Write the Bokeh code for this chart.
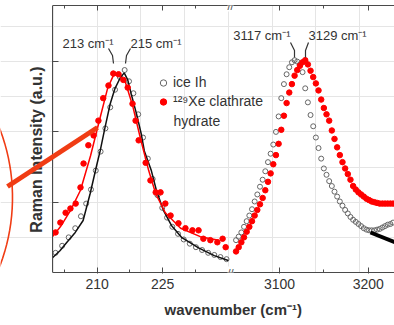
import numpy as np
from bokeh.plotting import figure
from bokeh.models import (Range1d, LinearAxis, FixedTicker, Label, Legend, LegendItem,
                          PolyAnnotation, Arrow, Title)
from bokeh.embed import file_html
from bokeh.resources import INLINE

# ---------------- data ----------------
# low-frequency band (cm^-1), intensity in a.u.
low_ice_x = [200.5, 202.0, 203.5, 205.0, 206.3, 207.5, 208.6, 209.7, 210.8, 211.9, 213.0,
             214.1, 215.2, 216.3, 217.3, 218.3, 219.4, 220.5, 221.6, 222.7, 223.8, 224.9,
             226.0, 227.2, 228.5, 229.8, 231.2, 232.6, 234.0, 235.4, 236.8, 238.2, 239.6]
low_ice_y = [0.28, 0.38, 0.50, 0.63, 0.80, 0.98, 1.18, 1.45, 1.72, 2.05, 2.35,
             2.60, 2.78, 2.88, 2.72, 2.55, 2.25, 1.92, 1.62, 1.33, 1.10, 0.92,
             0.78, 0.65, 0.55, 0.47, 0.41, 0.36, 0.32, 0.28, 0.25, 0.22, 0.19]
low_ice_fit_x = [199.8, 201.5, 203.1, 205.0, 206.8, 208.4, 210.0, 210.7, 211.8, 213.0, 214.1,
                 215.3, 216.2, 217.0, 217.8, 219.0, 220.1, 220.8, 222.4, 223.6, 225.2, 227.0,
                 229.3, 233.2, 236.8, 240.0]
low_ice_fit_y = [0.21, 0.31, 0.43, 0.57, 0.74, 1.12, 1.55, 1.73, 2.06, 2.40, 2.62,
                 2.77, 2.84, 2.74, 2.54, 2.26, 1.97, 1.73, 1.45, 1.16, 0.88, 0.67,
                 0.50, 0.35, 0.24, 0.17]
low_xe_x = [200.5, 201.6, 202.8, 203.9, 205.1, 206.2, 206.9, 208.0, 209.2, 210.3, 211.4,
            212.6, 213.7, 214.9, 216.0, 217.0, 218.1, 218.8, 219.5, 221.1, 222.2, 223.4,
            224.5, 225.6, 226.8, 228.6, 230.2, 231.8, 233.2, 234.3, 235.9, 237.5, 238.7, 239.4]
low_xe_y = [0.57, 0.71, 0.85, 0.91, 0.98, 1.21, 1.55, 1.81, 1.95, 2.16, 2.48,
            2.66, 2.83, 2.82, 2.74, 2.63, 2.40, 2.16, 1.88, 1.56, 1.31, 1.14,
            1.14, 0.98, 0.81, 0.70, 0.63, 0.60, 0.60, 0.48, 0.46, 0.43, 0.48, 0.36]
low_xe_fit_x = [199.8, 201.6, 203.9, 206.2, 208.5, 210.8, 212.4, 213.7, 214.9, 216.5, 218.1,
                219.9, 221.8, 223.4, 225.6, 229.1, 233.6, 237.8]
low_xe_fit_y = [0.51, 0.65, 0.88, 1.17, 1.66, 2.23, 2.62, 2.80, 2.82, 2.70, 2.38,
                1.91, 1.45, 1.12, 0.85, 0.63, 0.51, 0.46]

# high-frequency (O-H stretch) band
high_ice_x = [3051, 3054, 3057, 3060, 3063, 3066, 3069, 3072, 3075, 3078, 3081, 3084, 3087,
              3090, 3093, 3096, 3099, 3102, 3105, 3108, 3111, 3114, 3117, 3120, 3123, 3126,
              3129, 3132, 3135, 3138, 3141, 3144, 3147, 3150, 3153, 3156, 3159, 3162, 3165,
              3168, 3171, 3174, 3177, 3180, 3183, 3186, 3189, 3192, 3195, 3198, 3201, 3204,
              3207, 3210, 3213, 3216, 3219, 3222, 3225, 3228]
high_ice_y = [0.46, 0.51, 0.57, 0.65, 0.73, 0.81, 0.90, 1.01, 1.11, 1.22, 1.32, 1.44, 1.57,
              1.69, 1.82, 2.00, 2.22, 2.48, 2.68, 2.82, 2.92, 2.99, 3.02, 3.00, 2.96, 2.85,
              2.62, 2.42, 2.24, 2.08, 1.92, 1.77, 1.62, 1.48, 1.39, 1.30, 1.23, 1.15, 1.08,
              1.01, 0.95, 0.89, 0.84, 0.79, 0.75, 0.72, 0.69, 0.66, 0.63, 0.61, 0.60, 0.60,
              0.60, 0.61, 0.62, 0.64, 0.66, 0.68, 0.69, 0.71]
high_xe_x = high_ice_x
high_xe_y = [0.30, 0.36, 0.43, 0.50, 0.58, 0.65, 0.73, 0.81, 0.89, 0.97, 1.06, 1.17, 1.29,
             1.41, 1.54, 1.67, 1.83, 2.03, 2.23, 2.41, 2.56, 2.68, 2.80, 2.88, 2.94, 2.99,
             3.02, 2.96, 2.87, 2.78, 2.69, 2.59, 2.46, 2.34, 2.25, 2.16, 2.02, 1.90, 1.78,
             1.67, 1.57, 1.48, 1.40, 1.32, 1.23, 1.18, 1.14, 1.11, 1.08, 1.05, 1.03, 1.01,
             1.00, 0.99, 0.98, 0.98, 0.98, 0.98, 0.98, 0.98]

low_major_ticks = [210, 225]
low_minor_ticks = [202.5, 217.5, 232.5]
high_major_ticks = [3100, 3200]
high_minor_ticks = [3150]
y_ticks = [1, 2, 3]

series_names = ["ice Ih", "\u00b9\u00b2\u2079Xe clathrate", "hydrate"]
peak_labels_low = ["213 cm\u207b\u00b9", "215 cm\u207b\u00b9"]
peak_labels_high = ["3117 cm\u207b\u00b9", "3129 cm\u207b\u00b9"]
x_title = "wavenumber (cm\u207b\u00b9)"
y_title = "Raman Intensity (a.u.)"

# ---------------- geometry ----------------
PXL, PXY, PXR = 4.373, 70.3, 0.887
AXL, FB, W = 52, 272, 394          # y-axis px, x-axis px, canvas width
LOW0 = 199.8                       # low-band value at the y axis
L0 = LOW0 - AXL / PXL              # low-band value at canvas x = 0
L1 = L0 + W / PXL
R1 = 3100 + (W - 279) / PXR
R0 = R1 - W / PXR
Y1 = (FB - 5) / PXY


def hi2lo(w):
    return L0 + (w - R0) * (L1 - L0) / (R1 - R0)


def sx(px):  # canvas px -> low-band x (decorations only)
    return L0 + px / PXL


def sxr(px):
    return R0 + px / PXR


def sy(py):
    return (FB - py) / PXY


FONT = "Liberation Sans"
GREY = "#666666"
RED = "#ff0000"
AX = "#4a4a4a"
TXT = "#333333"
CALL = "#f03c14"

p = figure(width=W, height=325, x_range=Range1d(L0, L1), y_range=Range1d(0, Y1),
           output_backend="svg", toolbar_location=None,
           x_axis_location=None, y_axis_location=None,
           min_border_left=0, min_border_right=0, min_border_top=5, min_border_bottom=325 - FB)
p.extra_x_ranges = {"r": Range1d(R0, R1)}
p.outline_line_color = None
p.background_fill_color = "white"
p.border_fill_color = "white"

# ---------- axes ----------
maj = low_major_ticks + [hi2lo(v) for v in high_major_ticks]
mnr = low_minor_ticks + [hi2lo(v) for v in high_minor_ticks]
labels = {t: str(v) for t, v in zip(maj, low_major_ticks + high_major_ticks)}

xb = LinearAxis(ticker=FixedTicker(ticks=maj, minor_ticks=mnr), major_label_overrides=labels,
                bounds=(LOW0, L1))
xt = LinearAxis(ticker=FixedTicker(ticks=maj, minor_ticks=mnr),
                major_label_overrides={t: "" for t in maj}, bounds=(LOW0, L1))
yl = LinearAxis(ticker=FixedTicker(ticks=y_ticks, minor_ticks=[]),
                major_label_overrides={t: "" for t in y_ticks}, fixed_location=LOW0)
for ax in (xb, xt, yl):
    ax.axis_line_color = AX
    ax.major_tick_line_color = AX
    ax.minor_tick_line_color = AX
    ax.major_tick_out = 1
    ax.major_tick_in = 5
    ax.minor_tick_out = 0
    ax.minor_tick_in = 3
    ax.major_label_text_font = FONT
    ax.major_label_text_color = TXT
xb.major_label_text_font_size = "14px"
xb.major_label_standoff = 5
xt.major_tick_out = 0
xt.major_label_text_font_size = "0px"
xt.major_label_standoff = 0
yl.major_tick_out = 0
yl.major_tick_in = 6
yl.major_label_text_font_size = "0px"
yl.major_label_standoff = 0
p.add_layout(xb, "below")
p.add_layout(xt, "above")
p.add_layout(yl, "left")

p.add_layout(Title(text=x_title, align="left", offset=164, standoff=15,
                   text_font=FONT, text_font_size="15px", text_font_style="bold",
                   text_color=TXT), "below")
p.add_layout(Label(x=sx(36), y=sy(149), text=y_title, angle=np.pi / 2, text_align="center",
                   text_baseline="middle", text_font=FONT, text_font_size="16px",
                   text_font_style="bold", text_color=TXT))

# ---------- data glyphs ----------
r_ice = p.scatter(low_ice_x, low_ice_y, size=5, marker="circle", fill_color=None,
                  line_color=GREY, line_width=1)
p.scatter(high_ice_x, high_ice_y, size=5, marker="circle", fill_color=None,
          line_color=GREY, line_width=1, x_range_name="r")
p.line(low_ice_fit_x, low_ice_fit_y, line_color="#111111", line_width=1.5)
r_xe = p.scatter(low_xe_x, low_xe_y, size=5.5, marker="circle", fill_color=RED, line_color=RED)
p.scatter(high_xe_x, high_xe_y, size=5.5, marker="circle", fill_color=RED, line_color=RED,
          x_range_name="r")
p.line(low_xe_fit_x, low_xe_fit_y, line_color=RED, line_width=1.5)

# ---------- peak annotations ----------
ann = dict(text_font=FONT, text_font_size="13px", text_color=TXT, text_baseline="middle")
p.add_layout(Label(x=sx(113), y=sy(43), text=peak_labels_low[0], text_align="right", **ann))
p.add_layout(Label(x=sx(130), y=sy(43), text=peak_labels_low[1], text_align="left", **ann))
p.add_layout(Label(x=sxr(290), y=sy(35), text=peak_labels_high[0], text_align="right",
                   x_range_name="r", **ann))
p.add_layout(Label(x=sxr(308), y=sy(35), text=peak_labels_high[1], text_align="left",
                   x_range_name="r", **ann))
p.multi_line([[sx(108), sx(112), sx(113)], [sx(130), sx(126), sx(125)]],
             [[sy(48), sy(55), sy(63)], [sy(48), sy(55), sy(63)]],
             line_color=TXT, line_width=1.2)
p.multi_line([[sxr(290), sxr(294), sxr(294)], [sxr(308), sxr(305), sxr(305)]],
             [[sy(42), sy(50), sy(57)], [sy(42), sy(50), sy(57)]],
             line_color=TXT, line_width=1.2, x_range_name="r")

# ---------- axis break marks ----------
for yy in (0, Y1):
    p.add_layout(Label(x=sx(230), y=yy, text="//", text_align="center", text_baseline="middle",
                       text_font=FONT, text_font_size="11px", text_color=AX,
                       background_fill_color="white"))

# ---------- legend ----------
leg = Legend(items=[LegendItem(label=series_names[0], renderers=[r_ice]),
                    LegendItem(label=series_names[1], renderers=[r_xe])],
             location=(155, FB - 110.5), orientation="vertical",
             glyph_width=16, glyph_height=19, label_height=19, spacing=0, padding=0,
             margin=0, label_standoff=2, label_text_font=FONT, label_text_font_size="14px",
             label_text_color=TXT, background_fill_alpha=0, border_line_color=None)
p.add_layout(leg)
p.add_layout(Label(x=sx(173), y=sy(120), text=series_names[2], text_align="left",
                   text_baseline="middle", text_font=FONT, text_font_size="14px",
                   text_color=TXT))

# ---------- call-out decorations (outside the data) ----------
t = np.linspace(-1.35, 1.35, 60)
arc_px = -120 + 132 * np.cos(t)
arc_py = 197 + 160 * np.sin(t)
p.add_layout(PolyAnnotation(xs=[sx(v) for v in arc_px], ys=[sy(v) for v in arc_py],
                            fill_alpha=0, line_color=CALL, line_alpha=1, line_width=1.6))
p.add_layout(Arrow(end=None, x_start=sx(7), y_start=sy(186), x_end=sx(97), y_end=sy(127),
                   line_color=CALL, line_width=5))
p.add_layout(Arrow(end=None, x_start=sxr(370), y_start=sy(232), x_end=sxr(400), y_end=sy(244),
                   line_color="black", line_width=4, x_range_name="r"))

open("out.html", "w").write(file_html(p, INLINE))
